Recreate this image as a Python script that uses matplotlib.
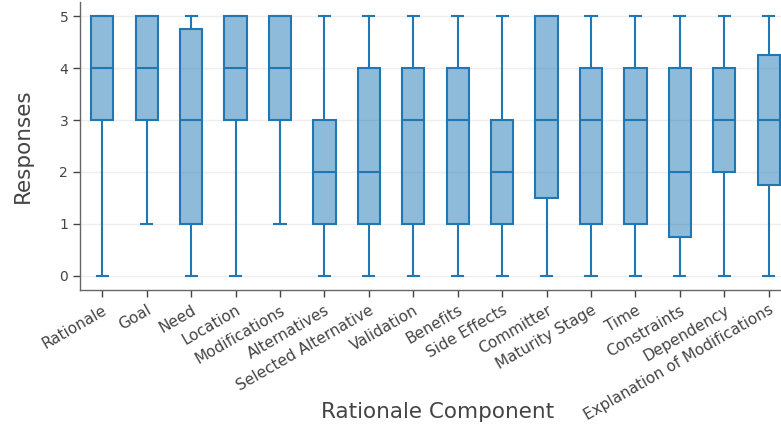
import matplotlib
matplotlib.use("Agg")
import matplotlib.pyplot as plt

# Box statistics (0-5 response scale)
components = ["Rationale", "Goal", "Need", "Location", "Modifications", "Alternatives",
              "Selected Alternative", "Validation", "Benefits", "Side Effects", "Committer",
              "Maturity Stage", "Time", "Constraints", "Dependency",
              "Explanation of Modifications"]
q1 = [3, 3, 1, 3, 3, 1, 1, 1, 1, 1, 1.5, 1, 1, 0.75, 2, 1.75]
medians = [4, 4, 3, 4, 4, 2, 2, 3, 3, 2, 3, 3, 3, 2, 3, 3]
q3 = [5, 5, 4.75, 5, 5, 3, 4, 4, 4, 3, 5, 4, 4, 4, 4, 4.25]
whisker_lo = [0, 1, 0, 0, 1, 0, 0, 0, 0, 0, 0, 0, 0, 0, 0, 0]
whisker_hi = [5, 5, 5, 5, 5, 5, 5, 5, 5, 5, 5, 5, 5, 5, 5, 5]

plt.rcParams["font.family"] = ["DejaVu Sans"]

line_color = "#1f77b4"
text_color = "#444444"

stats = []
for name, a, m, b, lo, hi in zip(components, q1, medians, q3, whisker_lo, whisker_hi):
    stats.append({"label": name, "q1": a, "med": m, "q3": b,
                  "whislo": lo, "whishi": hi, "fliers": []})

fig = plt.figure(figsize=(7.81, 4.28), dpi=100)
# plot area runs slightly past the right edge, as in the original export
ax = fig.add_axes([80 / 781, 138 / 428, 711 / 781, 288 / 428])

positions = list(range(len(components)))
ax.bxp(stats, positions=positions, widths=0.5, capwidths=0.25, patch_artist=True,
       showfliers=False,
       boxprops=dict(facecolor=(0.12, 0.47, 0.71, 0.5), edgecolor=line_color, linewidth=1.5),
       medianprops=dict(color=line_color, linewidth=1.5),
       whiskerprops=dict(color=line_color, linewidth=1.5),
       capprops=dict(color=line_color, linewidth=1.5))

ax.set_xlim(-0.5, len(components) - 0.5)
ax.set_ylim(-0.27, 5.27)
ax.set_yticks(range(6))
ax.yaxis.grid(True, color="#eeeeee", linewidth=1)
ax.set_axisbelow(True)

ax.set_xticks(positions)
ax.set_xticklabels(components, rotation=30, ha="right", rotation_mode="anchor",
                   fontsize=11, color=text_color)
ax.tick_params(axis="x", length=5, width=1, color=text_color, pad=4)
ax.tick_params(axis="y", length=5, width=1, color=text_color, pad=3.5,
               labelsize=10, labelcolor=text_color)

for side in ("top", "right"):
    ax.spines[side].set_visible(False)
for side in ("left", "bottom"):
    ax.spines[side].set_color("#666666")
    ax.spines[side].set_linewidth(1)

ax.set_ylabel("Responses", fontsize=15.5, color=text_color)
ax.yaxis.set_label_coords(-47 / 711, 0.5)
ax.set_xlabel("Rationale Component", fontsize=15.5, color=text_color)
ax.xaxis.set_label_coords(358 / 711, -112 / 288)

fig.savefig("out.png", dpi=100)
